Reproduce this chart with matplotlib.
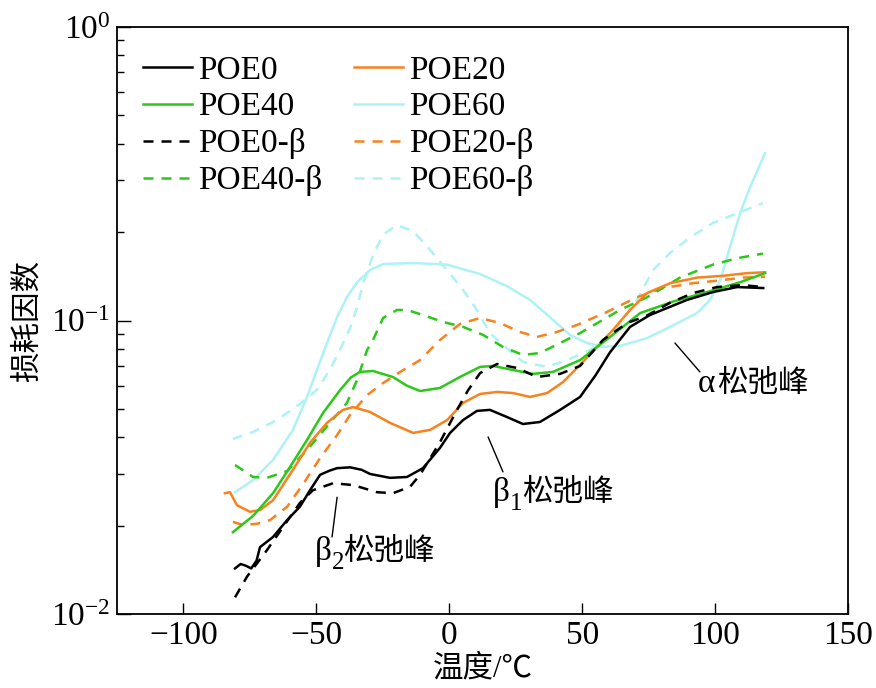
import matplotlib
matplotlib.use("Agg")
import matplotlib.pyplot as plt

plt.rcParams['font.family'] = ['Liberation Serif', 'Noto Sans CJK SC']
plt.rcParams['mathtext.fontset'] = 'custom'
plt.rcParams['mathtext.rm'] = 'Liberation Serif'
plt.rcParams['mathtext.it'] = 'Liberation Serif'
plt.rcParams['axes.unicode_minus'] = True

# ---------------- data (temperature in °C, loss factor) ----------------
poe0_t = [-80.6, -78.5, -76.5, -74.5, -72.5, -71.2, -66.3, -61.0, -56.2, -52.4, -48.6, -45.0, -42.2,
          -37.3, -33.0, -29.8, -22.3, -15.9, -9.9, -3.5, 0.3, 5.2, 10.4, 15.3, 21.7, 27.7, 34.1, 41.7,
          49.2, 55.0, 60.5, 68.0, 75.5, 89.4, 99.2, 108.3, 118.1]
poe0_v = [0.0143, 0.0148, 0.0146, 0.0143, 0.0152, 0.0169, 0.0183, 0.0209, 0.0232, 0.0264, 0.0298, 0.0308,
          0.0314, 0.0316, 0.0310, 0.0300, 0.0291, 0.0293, 0.0314, 0.0368, 0.0414, 0.0458, 0.0492, 0.0496,
          0.0469, 0.0444, 0.0451, 0.0496, 0.0549, 0.0650, 0.0780, 0.0951, 0.1044, 0.1175, 0.125, 0.130,
          0.129]

poe0b_t = [-80.6, -76.1, -68.6, -62.5, -56.2, -51.3, -43.7, -36.2, -27.2, -21.2, -14.8, -11.0, -3.5,
           2.9, 7.1, 11.6, 18.0, 25.5, 33.0, 41.7, 49.2, 57.8, 66.9, 74.4, 83.1, 91.7, 100.7, 110.5, 118.0]
poe0b_v = [0.0114, 0.0134, 0.0165, 0.0198, 0.0239, 0.0264, 0.0279, 0.0275, 0.0260, 0.0258, 0.0271, 0.0298,
           0.0385, 0.0496, 0.0579, 0.0662, 0.0711, 0.0689, 0.0642, 0.0658, 0.0700, 0.0858, 0.098, 0.104,
           0.115, 0.124, 0.130, 0.132, 0.130]

poe20_t = [-84.4, -82.5, -79.9, -75.0, -71.2, -66.3, -58.8, -52.4, -46.0, -40.0, -36.2, -29.8, -22.3,
           -13.6, -7.2, -0.8, 5.2, 11.6, 18.0, 24.0, 30.4, 36.8, 42.8, 49.2, 55.6, 61.6, 68.0, 74.4,
           83.1, 93.2, 103.0, 112.0, 118.8]
poe20_v = [0.0258, 0.0260, 0.0235, 0.0223, 0.0226, 0.0244, 0.0310, 0.0383, 0.0448, 0.0496, 0.0507, 0.0488,
           0.0448, 0.0414, 0.0424, 0.0458, 0.0524, 0.0562, 0.0571, 0.0566, 0.0549, 0.0566, 0.0617, 0.0706,
           0.0813, 0.0929, 0.1086, 0.124, 0.134, 0.140, 0.142, 0.145, 0.146]

poe20b_t = [-81.4, -77.6, -72.3, -67.4, -61.0, -55.0, -48.6, -42.2, -37.3, -30.9, -24.9, -18.5, -11.0,
            -3.5, 4.0, 11.6, 19.1, 26.6, 33.0, 40.5, 48.1, 59.4, 70.6, 80.4, 91.7, 101.9, 110.5, 118.8]
poe20b_v = [0.0206, 0.0201, 0.0203, 0.0209, 0.0232, 0.0277, 0.0340, 0.0407, 0.0477, 0.0557, 0.0612, 0.0668,
            0.0733, 0.0858, 0.0973, 0.102, 0.098, 0.0914, 0.0879, 0.0914, 0.0966, 0.107, 0.120, 0.129,
            0.134, 0.137, 0.140, 0.141]

poe40_t = [-81.4, -73.8, -66.3, -59.9, -53.5, -47.5, -41.1, -37.0, -33.6, -28.7, -21.2, -16.0, -11.0,
           -3.5, 4.0, 11.6, 16.5, 24.0, 31.5, 39.0, 49.2, 60.5, 71.8, 84.2, 97.0, 109.4, 118.8]
poe40_v = [0.0190, 0.0216, 0.0258, 0.0317, 0.0392, 0.0484, 0.0579, 0.0640, 0.0668, 0.0673, 0.0642, 0.0600,
           0.0575, 0.0589, 0.0642, 0.0695, 0.0700, 0.0678, 0.0658, 0.0668, 0.0733, 0.0879, 0.106, 0.116,
           0.125, 0.135, 0.145]

poe40b_t = [-80.6, -73.8, -68.6, -61.0, -53.5, -44.9, -38.5, -34.7, -30.9, -28.7, -24.9, -19.7, -15.9,
            -9.9, -2.4, 5.2, 12.7, 20.2, 27.7, 34.1, 41.7, 49.2, 64.2, 74.4, 86.8, 99.2, 108.3, 118.0]
poe40b_v = [0.0322, 0.0293, 0.0291, 0.0307, 0.0362, 0.0448, 0.0524, 0.0627, 0.0794, 0.0858, 0.102, 0.1086,
            0.1086, 0.1044, 0.0989, 0.0951, 0.0893, 0.0813, 0.0763, 0.0775, 0.0838, 0.0906, 0.1086, 0.120,
            0.140, 0.155, 0.163, 0.169]

poe60_t = [-80.6, -73.8, -66.3, -58.8, -53.5, -49.8, -46.0, -42.2, -38.5, -34.7, -29.8, -24.9, -13.6,
           -0.8, 11.6, 21.7, 30.4, 39.0, 45.4, 51.8, 57.8, 64.2, 74.4, 83.1, 93.2, 98.1, 101.9, 105.6,
           109.4, 113.2, 118.8]
poe60_v = [0.0260, 0.0286, 0.0335, 0.0424, 0.0549, 0.0678, 0.0838, 0.1028, 0.120, 0.135, 0.1486, 0.1557,
           0.157, 0.155, 0.144, 0.131, 0.1175, 0.1005, 0.0893, 0.0838, 0.0813, 0.0819, 0.0871, 0.0951,
           0.106, 0.1175, 0.137, 0.178, 0.232, 0.285, 0.372]

poe60b_t = [-81.4, -73.8, -64.8, -56.2, -49.8, -44.9, -41.1, -37.3, -34.7, -32.4, -28.7, -24.9, -19.7,
            -13.6, -7.2, -0.8, 5.2, 10.4, 15.3, 21.7, 27.7, 36.8, 44.3, 53.0, 61.6, 70.6, 76.7, 83.1,
            90.6, 99.2, 108.3, 118.0]
poe60b_v = [0.0395, 0.0417, 0.0458, 0.0520, 0.0580, 0.0680, 0.0794, 0.0942, 0.111, 0.134, 0.167, 0.196,
            0.2115, 0.2017, 0.174, 0.1486, 0.127, 0.1086, 0.0906, 0.0805, 0.0722, 0.0695, 0.0733, 0.0794,
            0.0906, 0.1175, 0.1486, 0.170, 0.192, 0.215, 0.232, 0.251]

x_ticks = [-100, -50, 0, 50, 100, 150]
x_label = '温度/℃'
y_label = '损耗因数'

BLACK = '#000000'
ORANGE = '#F7821E'
GREEN = '#2BC81A'
CYAN = '#AEF2F5'

fig = plt.figure(figsize=(8.76, 6.88), dpi=100)
ax = fig.add_axes([117 / 876, 1 - 614 / 688, (848 - 117) / 876, (614 - 27) / 688])

lw = 1.8
dash = (0, (4, 3.2))
series = [
    (poe0_t, poe0_v, BLACK, '-', 'POE0'),
    (poe40_t, poe40_v, GREEN, '-', 'POE40'),
    (poe0b_t, poe0b_v, BLACK, dash, 'POE0-β'),
    (poe40b_t, poe40b_v, GREEN, dash, 'POE40-β'),
    (poe20_t, poe20_v, ORANGE, '-', 'POE20'),
    (poe60_t, poe60_v, CYAN, '-', 'POE60'),
    (poe20b_t, poe20b_v, ORANGE, dash, 'POE20-β'),
    (poe60b_t, poe60b_v, CYAN, dash, 'POE60-β'),
]
draw_order = ['POE60-β', 'POE60', 'POE20-β', 'POE40-β', 'POE20', 'POE40', 'POE0-β', 'POE0']
handles = {}
for t, v, c, ls, lab in series:
    h, = ax.plot(t, v, color=c, linestyle=ls, lw=lw, label=lab,
                 zorder=2 + draw_order.index(lab) * 0.1)
    handles[lab] = h
leg_order = ['POE0', 'POE40', 'POE0-β', 'POE40-β', 'POE20', 'POE60', 'POE20-β', 'POE60-β']
ax.legend([handles[k] for k in leg_order], leg_order, ncol=2, frameon=False,
          loc='upper left', bbox_to_anchor=(0.036, 0.952), borderaxespad=0, borderpad=0,
          fontsize=24, handlelength=1.45, handletextpad=0.2, columnspacing=0.95,
          labelspacing=0.18)

ax.set_yscale('log')
ax.set_xlim(-125, 150)
ax.set_ylim(0.01, 1.0)
ax.set_xticks(x_ticks)
ax.set_xticklabels([f'{v}'.replace('-', '\u2212') for v in x_ticks])
ax.tick_params(axis='x', which='major', direction='in', length=8, width=1.0,
               labelsize=24, pad=5, top=False)
ax.tick_params(axis='x', which='minor', bottom=False, top=False)
ax.tick_params(axis='y', which='major', direction='in', length=10, width=1.0,
               labelsize=24, pad=5, right=False)
ax.tick_params(axis='y', which='minor', direction='in', length=5, width=1.0, right=False)
for s in ax.spines.values():
    s.set_linewidth(1.3)

ax.set_xlabel(x_label, fontsize=22, labelpad=2)
ax.set_ylabel(y_label, fontsize=22, labelpad=6)

# annotations: leader lines
lk = dict(arrowstyle='-', lw=1.0, color='black', shrinkA=0, shrinkB=0)
ax.annotate('', xy=(84.9, 0.0838), xytext=(94.3, 0.0668), arrowprops=lk)
ax.annotate('', xy=(14.6, 0.0401), xytext=(20.2, 0.0305), arrowprops=lk)
ax.annotate('', xy=(-42.2, 0.0250), xytext=(-44.1, 0.0183), arrowprops=lk)

px = 0.72  # points per pixel at 100 dpi


def peak_label(x, y, greek, sub, cjk_dx):
    ax.annotate(greek, xy=(x, y), xytext=(0, 0), textcoords='offset points',
                ha='left', va='baseline', fontsize=24)
    if sub:
        ax.annotate(sub, xy=(x, y), xytext=(17 * px, -9 * px), textcoords='offset points',
                    ha='left', va='baseline', fontsize=18)
    ax.annotate('松弛峰', xy=(x, y), xytext=(cjk_dx * px, 0), textcoords='offset points',
                ha='left', va='baseline', fontsize=22, family='Noto Sans CJK SC')


peak_label(93.6, 0.0571, 'α', None, 19)
peak_label(16.5, 0.02427, 'β', '1', 29)
peak_label(-50.5, 0.01528, 'β', '2', 28)

fig.savefig('out.png', dpi=100)
